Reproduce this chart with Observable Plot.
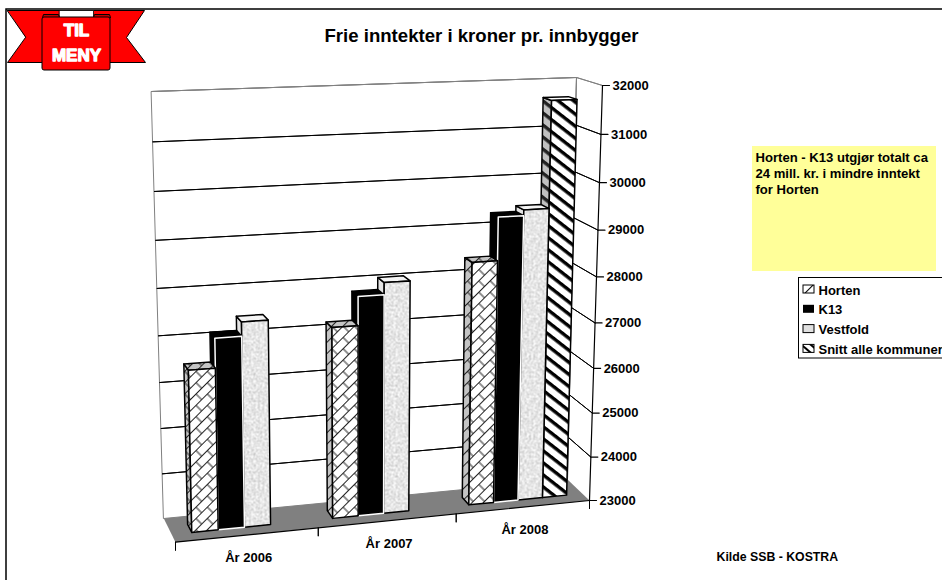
<!DOCTYPE html>
<html><head><meta charset="utf-8">
<script src="https://cdn.jsdelivr.net/npm/d3@7"></script>
<script src="https://cdn.jsdelivr.net/npm/@observablehq/plot@0.6"></script>
<style>html,body{margin:0;padding:0;background:#fff;overflow:hidden}svg{display:block}</style>
</head><body><div id="chart"></div>
<script>
const categories = ["År 2006", "År 2007", "År 2008"];
const seriesNames = ["Horten", "K13", "Vestfold", "Snitt alle kommuner"];
const horten = [26500, 27180, 28370];
const k13 = [27130, 27800, 29300];
const vestfold = [27430, 28060, 29420];
const snitt = [null, null, 31670];
const valueTicks = [23000, 24000, 25000, 26000, 27000, 28000, 29000, 30000, 31000, 32000];
const title = "Frie inntekter i kroner pr. innbygger";
const noteLines = ["Horten - K13 utgjør totalt ca", "24 mill. kr. i mindre inntekt", "for Horten"];
const source = "Kilde SSB - KOSTRA";

// view of the 3-D box, in page units: [depth][category end][value end]
const box = [
  [[[175, 541.7], [166, 101]], [[589, 500], [602, 85]]],
  [[[163.3, 518], [151, 91]], [[567, 479], [576, 77]]]
];
const warp = (t, r) => t / (r + (1 - r) * t);
function project(u, val, d) {
  const U = warp(u / 3, 0.95), V = warp((val - 23000) / 9000, 1.07);
  const lerp = (a, b, t) => [a[0] + (b[0] - a[0]) * t, a[1] + (b[1] - a[1]) * t];
  const atDepth = k => lerp(lerp(box[k][0][0], box[k][1][0], U), lerp(box[k][0][1], box[k][1][1], U), V);
  return lerp(atDepth(0), atDepth(1), d);
}

const rows = [];
let pid = 0;
function poly(points, fill, stroke, strokeWidth) {
  const id = pid++;
  for (const [x, y] of points) rows.push({x, y, id, fill, stroke, strokeWidth});
}
const vMin = valueTicks[0], vMax = valueTicks[valueTicks.length - 1];

// back wall, right wall, floor
poly([project(0, vMin, 1), project(3, vMin, 1), project(3, vMax, 1), project(0, vMax, 1)], "#fff", "#808080", 1);
poly([project(3, vMin, 1), project(3, vMin, 0), project(3, vMax, 0), project(3, vMax, 1)], "#fff", "none", 1);
for (const t of valueTicks) {
  if (t === vMin) continue;
  const c = t === vMax ? "#808080" : "#000";
  poly([project(0, t, 1), project(3, t, 1)], "none", c, 1);
  poly([project(3, t, 1), project(3, t, 0)], "none", c, 1);
}
poly([project(3, vMin, 1), project(3, vMax, 1)], "none", "#808080", 1);
poly([project(0, vMin, 0), project(3, vMin, 0), project(3, vMin, 1), project(0, vMin, 1)], "#808080", "none", 0);
poly([project(0, vMin, 0), project(3, vMin, 0)], "none", "#000", 1.2);
poly([project(3, vMin, 0), project(3, vMax, 0)], "none", "#000", 1.2);
for (let i = 0; i <= 3; i++) {
  const a = project(i, vMin, 0);
  poly([a, [a[0], a[1] + 8]], "none", "#000", 1);
}
for (const t of valueTicks) {
  const a = project(3, t, 0);
  poly([a, [a[0] + 7, a[1]]], "none", "#000", 1.2);
}

// bars
const slotStart = 0.14, slotWidth = 0.185, d0 = 0.33, d1 = 0.67;
const styles = [
  {front: "url(#brick)", side: "url(#brickDark)", top: "url(#brickDark)", edge: "#000", fe: "#000"},
  {front: "#000", side: "#000", top: "#000", edge: "#000", fe: "#fff"},
  {front: "url(#speck)", side: "#e4e4e4", top: "#f4f4f4", edge: "#000", fe: "#000"},
  {front: "url(#stripe)", side: "url(#stripeDark)", top: "#fff", edge: "#000", fe: "#000"}
];
const allSeries = [horten, k13, vestfold, snitt];
for (let c = 2; c >= 0; c--) {
  for (let s = 3; s >= 0; s--) {
    const v = allSeries[s][c];
    if (v == null) continue;
    const a = c + slotStart + s * slotWidth, b = a + slotWidth, st = styles[s];
    poly([project(a, vMin, d0), project(a, vMin, d1), project(a, v, d1), project(a, v, d0)], st.side, st.edge, 1.5);
    poly([project(a, v, d0), project(a, v, d1), project(b, v, d1), project(b, v, d0)], st.top, st.edge, 1.5);
    poly([project(a, vMin, d0), project(b, vMin, d0), project(b, v, d0), project(a, v, d0)], st.front, st.fe, 1.5);
  }
}

// frame and ribbon
const frame = [{x1: 6, x2: 960, y1: 9, y2: 600}];
const ribbon = [];
const rpoly = (pts, fill, stroke = "#000", w = 1) => { const id = "r" + ribbon.length; pts.forEach(([x, y]) => ribbon.push({x, y, id, fill, stroke, strokeWidth: w})); };
rpoly([[7, 10], [144, 10], [126, 37], [145, 62], [7, 62], [25, 37]], "#ff0000");
rpoly([[59, 10], [93, 10], [93, 17], [59, 17]], "#fff", "#000", 0.8);
rpoly([[42, 17], [43, 14], [58, 14], [59, 17]], "#c00000");
rpoly([[93, 17], [94, 14], [109, 14], [110, 17]], "#c00000");

const tickLabels = valueTicks.map(t => { const p = project(3, t, 0); return {x: p[0] + 10, y: p[1], t: String(t)}; });
const catLabels = categories.map((t, i) => { const p = project(i * 0.975 + 0.42, vMin, -0.95); return {x: p[0], y: p[1], t}; });
const legendRows = seriesNames.map((t, i) => ({t, y: 290 + i * 19.8, fill: ["url(#swBrick)", "#000", "#e0e0e0", "url(#swStripe)"][i], stroke: i === 1 ? "none" : "#000"}));

function defs() {
  const s = d3.create("svg:defs");
  s.html(`
  <pattern id="brick" width="16" height="16" patternUnits="userSpaceOnUse" patternTransform="rotate(-45)">
    <rect width="16" height="16" fill="#fff"/>
    <path d="M0 0.5H16M0 8.5H16M4 0.5V8.5M12 8.5V16.5" stroke="#222" stroke-width="1" fill="none"/>
  </pattern>
  <pattern id="brickDark" width="16" height="16" patternUnits="userSpaceOnUse" patternTransform="rotate(-45)">
    <rect width="16" height="16" fill="#c4c4c4"/>
    <path d="M0 0.5H16M0 8.5H16M4 0.5V8.5M12 8.5V16.5" stroke="#222" stroke-width="1" fill="none"/>
  </pattern>
  <pattern id="stripe" width="9.5" height="9.5" patternUnits="userSpaceOnUse" patternTransform="rotate(38)">
    <rect width="9.5" height="9.5" fill="#fff"/>
    <rect width="9.5" height="3.4" fill="#000"/>
  </pattern>
  <pattern id="stripeDark" width="9.5" height="9.5" patternUnits="userSpaceOnUse" patternTransform="rotate(38)">
    <rect width="9.5" height="9.5" fill="#c0c0c0"/>
    <rect width="9.5" height="3.4" fill="#222"/>
  </pattern>
  <filter id="noise" x="0" y="0" width="100%" height="100%" color-interpolation-filters="sRGB">
    <feTurbulence type="fractalNoise" baseFrequency="0.45" numOctaves="2" seed="4"/>
    <feColorMatrix type="matrix" values="0 0 0 0.42 0.69  0 0 0 0.42 0.69  0 0 0 0.42 0.69  0 0 0 0 1"/>
  </filter>
  <pattern id="speck" width="80" height="80" patternUnits="userSpaceOnUse">
    <rect width="80" height="80" fill="#e4e4e4" filter="url(#noise)"/>
  </pattern>
  <pattern id="swBrick" width="8" height="8" patternUnits="userSpaceOnUse" patternTransform="rotate(-45)">
    <rect width="8" height="8" fill="#fff"/><rect width="8" height="1" fill="#000"/>
  </pattern>
  <pattern id="swStripe" width="6" height="6" patternUnits="userSpaceOnUse" patternTransform="rotate(40)">
    <rect width="6" height="6" fill="#fff"/><rect width="6" height="2" fill="#000"/>
  </pattern>`);
  return s.node();
}

const chart = Plot.plot({
  width: 942, height: 580, margin: 0,
  x: {domain: [0, 942], range: [0, 942], axis: null},
  y: {domain: [0, 580], range: [0, 580], axis: null},
  color: {type: "identity"},
  style: {fontFamily: "'Liberation Sans', Arial, sans-serif", fontWeight: "bold", background: "#fff", color: "#000"},
  marks: [
    defs,
    Plot.rect(frame, {x1: "x1", x2: "x2", y1: "y1", y2: "y2", fill: "#fff", stroke: "#000", strokeWidth: 1.5}),
    Plot.line(rows, {x: "x", y: "y", z: "id", fill: "fill", stroke: "stroke", strokeWidth: "strokeWidth", curve: "linear-closed"}),
    Plot.text(tickLabels, {x: "x", y: "y", text: "t", textAnchor: "start", fontSize: 13, fill: "#000"}),
    Plot.text(catLabels, {x: "x", y: "y", text: "t", fontSize: 13, fill: "#000"}),
    // ribbon
    Plot.line(ribbon, {x: "x", y: "y", z: "id", fill: "fill", stroke: "stroke", strokeWidth: "strokeWidth", curve: "linear-closed"}),
    Plot.rect([{x1: 42, x2: 110, y1: 17, y2: 70}], {x1: "x1", x2: "x2", y1: "y1", y2: "y2", fill: "#ff0000", stroke: "#000", strokeWidth: 1, rx: 2}),
    Plot.text([{x: 76, y: 30, t: "TIL"}, {x: 76, y: 55, t: "MENY"}], {x: "x", y: "y", text: "t", fontSize: 17, fill: "#fff", stroke: "#fff", strokeWidth: 1.3}),
    // title, note, source
    Plot.text([{x: 481, y: 36, t: title}], {x: "x", y: "y", text: "t", fontSize: 18.6, fill: "#000"}),
    Plot.rect([{x1: 752, x2: 936, y1: 146, y2: 271}], {x1: "x1", x2: "x2", y1: "y1", y2: "y2", fill: "#ffff99"}),
    Plot.text(noteLines.map((t, i) => ({t, x: 755, y: 157 + i * 16})), {x: "x", y: "y", text: "t", textAnchor: "start", fontSize: 13.1, fill: "#000"}),
    Plot.text([{x: 716, y: 557, t: source}], {x: "x", y: "y", text: "t", textAnchor: "start", fontSize: 12.3, fill: "#000"}),
    // legend
    Plot.rect([{x1: 798.5, x2: 960, y1: 277.5, y2: 358}], {x1: "x1", x2: "x2", y1: "y1", y2: "y2", fill: "#fff", stroke: "#000", strokeWidth: 1}),
    Plot.rect(legendRows, {x1: () => 803, x2: () => 814, y1: d => d.y - 5, y2: d => d.y + 3, inset: 0, fill: "fill", stroke: "stroke", strokeWidth: 1}),
    Plot.text(legendRows, {x: () => 818, y: "y", text: "t", textAnchor: "start", fontSize: 13, fill: "#000"})
  ]
});
document.getElementById("chart").append(chart);
</script></body></html>
